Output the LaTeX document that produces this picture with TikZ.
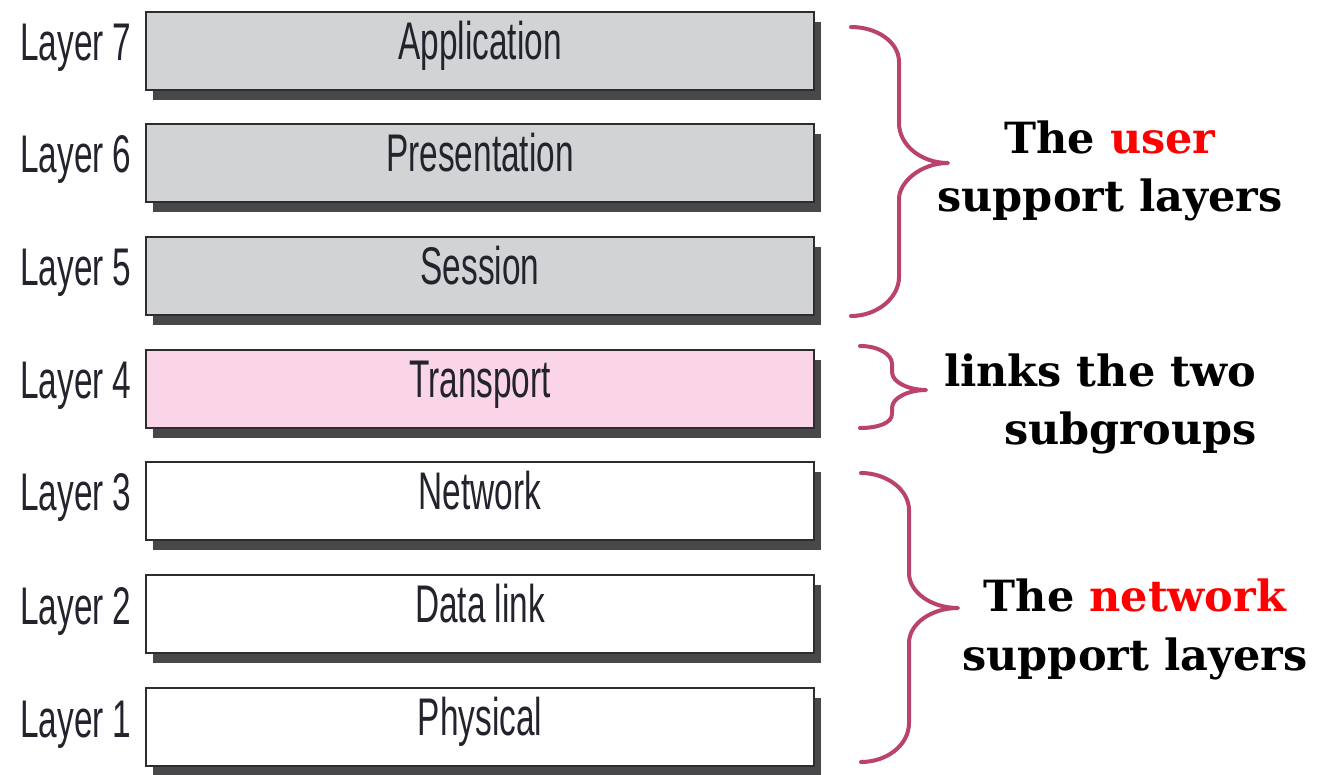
\documentclass[tikz,border=0pt]{standalone}
\usepackage{fontspec}
\usetikzlibrary{shadows}
\newfontfamily\condfont[FakeStretch=0.63]{Liberation Sans}
\newfontfamily\boldserif{DejaVu Serif}
\definecolor{boxgray}{RGB}{210,211,213}
\definecolor{boxpink}{RGB}{250,212,231}
\definecolor{shadowgray}{RGB}{72,72,75}
\definecolor{edgecol}{RGB}{45,45,48}
\definecolor{bracecol}{RGB}{185,66,110}
\definecolor{txtcol}{RGB}{35,35,45}
\definecolor{hired}{RGB}{255,0,0}
\tikzset{
  layerbox/.style={draw=edgecol, line width=2.4pt, minimum width=668pt, minimum height=78pt, inner sep=0pt,
    drop shadow={shadow xshift=7pt, shadow yshift=-10pt, fill=shadowgray, opacity=1}},
  boxtext/.style={font=\condfont\fontsize{53}{60}\selectfont, text=txtcol, anchor=base, inner sep=0pt},
  layertext/.style={font=\condfont\fontsize{53}{60}\selectfont, text=txtcol, anchor=base west, inner sep=0pt},
  sidetext/.style={font=\boldserif\bfseries\fontsize{43}{50}\selectfont, text=black, anchor=base, inner sep=0pt},
  bracestyle/.style={draw=bracecol, line width=4pt, line cap=round, line join=round}
}
\begin{document}
\begin{tikzpicture}[x=1pt,y=-1pt]
\useasboundingbox (0,0) rectangle (1326,775);
% boxes
\node[layerbox, fill=boxgray] (b7) at (480,51) {};
\node[layerbox, fill=boxgray] (b6) at (480,163) {};
\node[layerbox, fill=boxgray] (b5) at (480,276) {};
\node[layerbox, fill=boxpink] (b4) at (480,389) {};
\node[layerbox, fill=white] (b3) at (480,501) {};
\node[layerbox, fill=white] (b2) at (480,614) {};
\node[layerbox, fill=white] (b1) at (480,727) {};
% box texts
\node[boxtext] (t7) at ([yshift=-49pt]b7.north) {Application};
\node[boxtext] (t6) at ([yshift=-49pt]b6.north) {Presentation};
\node[boxtext] (t5) at ([yshift=-49pt]b5.north) {Session};
\node[boxtext] (t4) at ([yshift=-49pt]b4.north) {Transport};
\node[boxtext] (t3) at ([yshift=-49pt]b3.north) {Network};
\node[boxtext] (t2) at ([yshift=-49pt]b2.north) {Data link};
\node[boxtext] (t1) at ([yshift=-49pt]b1.north) {Physical};
% layer labels
\node[layertext] (l7) at (20,61) {Layer 7};
\node[layertext] (l6) at (20,173) {Layer 6};
\node[layertext] (l5) at (20,286) {Layer 5};
\node[layertext] (l4) at (20,399) {Layer 4};
\node[layertext] (l3) at (20,511) {Layer 3};
\node[layertext] (l2) at (20,624) {Layer 2};
\node[layertext] (l1) at (20,737) {Layer 1};
% braces
\draw[bracestyle] (851,27) .. controls (877,27) and (899,42) .. (899,62) -- (899,123)
  .. controls (899,145) and (921,163) .. (948,163)
  .. controls (921,163) and (899,182) .. (899,199) -- (899,277)
  .. controls (899,298) and (877,316) .. (851,316);
\draw[bracestyle] (860,346) .. controls (878,346) and (892,354) .. (892,364) -- (892,372)
  .. controls (892,383) and (910,390) .. (926,390)
  .. controls (910,390) and (892,397) .. (892,408) -- (892,414)
  .. controls (892,423) and (878,428) .. (860,428);
\draw[bracestyle] (861,473) .. controls (887,473) and (909,490) .. (909,510) -- (909,573)
  .. controls (909,592) and (931,608) .. (958,608)
  .. controls (931,608) and (909,624) .. (909,643) -- (909,723)
  .. controls (909,745) and (887,762) .. (861,762);
% side texts
\node[sidetext] (u1) at (1110,154) {The \textcolor{hired}{user}};
\node[sidetext] (u2) at (1110,212) {support layers};
\node[sidetext] (k1) at (1100,387) {links the two};
\node[sidetext, anchor=base east] (k2) at (1257,445) {subgroups};
\node[sidetext] (n1) at (1135,611) {The \textcolor{hired}{network}};
\node[sidetext] (n2) at (1135,670) {support layers};
\end{tikzpicture}
\end{document}
